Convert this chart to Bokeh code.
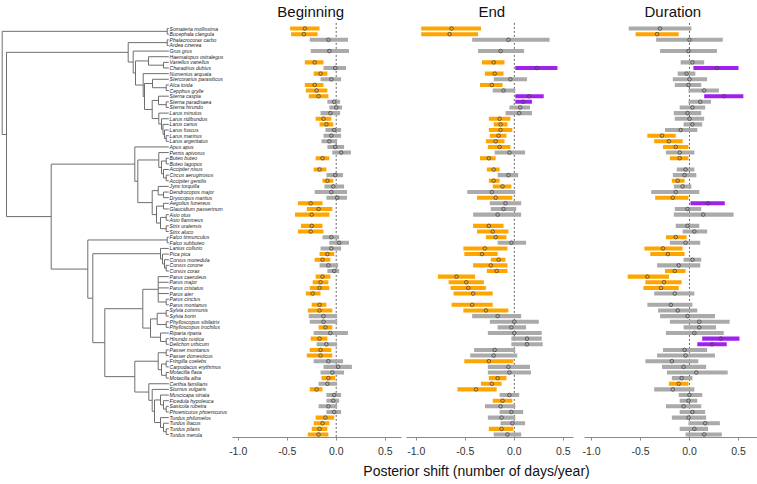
from bokeh.plotting import figure
from bokeh.models import Range1d, ColumnDataSource, FixedTicker, PrintfTickFormatter
from bokeh.layouts import row, column
from bokeh.embed import file_html
from bokeh.resources import INLINE
from bokeh.core.properties import value

N = None

species = [
    "Somateria mollissima", "Bucephala clangula", "Phalacrocorax carbo", "Ardea cinerea",
    "Grus grus", "Haematopus ostralegus", "Vanellus vanellus", "Charadrius dubius",
    "Numenius arquata", "Stercorarius parasiticus", "Alca torda", "Cepphus grylle",
    "Sterna caspia", "Sterna paradisaea", "Sterna hirundo", "Larus minutus",
    "Larus ridibundus", "Larus canus", "Larus fuscus", "Larus marinus", "Larus argentatus",
    "Apus apus", "Pernis apivorus", "Buteo buteo", "Buteo lagopus", "Accipiter nisus",
    "Circus aeruginosus", "Accipiter gentilis", "Jynx torquilla", "Dendrocopos major",
    "Dryocopus martius", "Aegolius funereus", "Glaucidium passerinum", "Asio otus",
    "Asio flammeus", "Strix uralensis", "Strix aluco", "Falco tinnunculus", "Falco subbuteo",
    "Lanius collurio", "Pica pica", "Corvus monedula", "Corvus corone", "Corvus corax",
    "Parus caeruleus", "Parus major", "Parus cristatus", "Parus ater", "Parus cinctus",
    "Parus montanus", "Sylvia communis", "Sylvia borin", "Phylloscopus sibilatrix",
    "Phylloscopus trochilus", "Riparia riparia", "Hirundo rustica", "Delichon urbicum",
    "Passer montanus", "Passer domesticus", "Fringilla coelebs", "Carpodacus erythrinus",
    "Motacilla flava", "Motacilla alba", "Certhia familiaris", "Sturnus vulgaris",
    "Muscicapa striata", "Ficedula hypoleuca", "Saxicola rubetra", "Phoenicurus phoenicurus",
    "Turdus philomelos", "Turdus iliacus", "Turdus pilaris", "Turdus merula",
]

# Beginning: lower bound, median, upper bound (days/year)
begin_lo = [-0.47, -0.46, -0.27, N, -0.26, N, -0.32, -0.13, -0.23, -0.16, -0.32, -0.31, -0.28, -0.09, -0.07,
            -0.16, -0.21, -0.17, -0.11, -0.13, -0.15, -0.09, -0.04, -0.21, N, -0.23, -0.10, -0.14, -0.12, -0.22,
            -0.10, -0.39, -0.30, -0.42, N, -0.36, -0.39, -0.14, -0.07, -0.16, -0.17, -0.22, -0.17, -0.09, -0.21,
            -0.24, -0.27, -0.31, N, -0.25, -0.29, -0.28, -0.27, -0.18, -0.23, -0.26, -0.20, -0.27, -0.30, -0.23,
            -0.13, -0.16, -0.15, -0.18, -0.27, -0.10, -0.10, -0.18, -0.10, -0.21, -0.23, -0.25, -0.29]
begin_med = [-0.32, -0.33, -0.08, N, -0.07, N, -0.22, -0.01, -0.16, -0.05, -0.22, -0.20, -0.18, -0.02, 0.00,
             -0.06, -0.13, -0.10, -0.02, -0.05, -0.07, -0.01, 0.05, -0.14, N, -0.17, -0.01, -0.09, -0.03, -0.05,
             0.01, -0.26, -0.18, -0.25, N, -0.25, -0.26, -0.05, 0.03, -0.05, -0.09, -0.14, -0.08, -0.02, -0.14,
             -0.16, -0.17, -0.24, N, -0.17, -0.17, -0.13, -0.13, -0.11, -0.06, -0.17, -0.10, -0.16, -0.16, -0.08,
             0.02, -0.04, -0.08, -0.09, -0.20, -0.02, -0.03, -0.08, -0.02, -0.11, -0.14, -0.17, -0.18]
begin_hi = [-0.17, -0.19, 0.12, N, 0.13, N, -0.13, 0.10, -0.09, 0.05, -0.13, -0.09, -0.08, 0.04, 0.06,
            0.04, -0.05, -0.03, 0.05, 0.05, 0.01, 0.08, 0.15, -0.07, N, -0.10, 0.07, -0.03, 0.08, 0.11,
            0.11, -0.14, -0.04, -0.07, N, -0.14, -0.13, 0.03, 0.13, 0.05, -0.02, -0.06, 0.02, 0.03, -0.06,
            -0.08, -0.07, -0.16, N, -0.10, -0.04, 0.01, 0.01, -0.04, 0.12, -0.09, 0.01, -0.05, -0.04, 0.07,
            0.16, 0.08, -0.01, 0.01, -0.14, 0.05, 0.03, 0.01, 0.05, -0.02, -0.07, -0.09, -0.08]

# End
end_lo = [-0.95, -0.95, -0.43, N, -0.37, N, -0.33, 0.01, -0.30, -0.21, -0.35, -0.22, 0.01, 0.01, -0.05,
          -0.09, -0.26, -0.21, -0.26, -0.25, -0.29, -0.27, -0.20, -0.35, N, -0.28, -0.17, -0.26, -0.22, -0.48,
          -0.38, -0.25, -0.24, -0.42, N, -0.42, -0.38, -0.29, -0.17, -0.52, -0.51, -0.24, -0.42, -0.28, -0.78,
          -0.67, -0.65, -0.62, N, -0.64, -0.52, -0.43, -0.25, -0.17, -0.27, -0.03, -0.03, -0.41, -0.45, -0.51,
          -0.27, -0.27, -0.26, -0.34, -0.58, -0.15, -0.22, -0.30, -0.15, -0.27, -0.14, -0.26, -0.21]
end_med = [-0.64, -0.66, -0.06, N, -0.14, N, -0.21, 0.23, -0.20, -0.04, -0.23, -0.11, 0.15, 0.09, 0.06,
           0.05, -0.15, -0.14, -0.14, -0.16, -0.19, -0.15, -0.05, -0.26, N, -0.21, -0.06, -0.21, -0.12, -0.23,
           -0.19, -0.09, -0.11, -0.17, N, -0.26, -0.22, -0.19, -0.03, -0.30, -0.33, -0.16, -0.24, -0.18, -0.59,
           -0.49, -0.47, -0.42, N, -0.43, -0.29, -0.17, 0.00, -0.03, 0.00, 0.13, 0.13, -0.20, -0.21, -0.26,
           -0.06, -0.05, -0.17, -0.23, -0.39, -0.05, -0.12, -0.14, -0.03, -0.13, -0.02, -0.13, -0.07]
end_hi = [-0.34, -0.37, 0.36, N, 0.10, N, -0.10, 0.44, -0.11, 0.13, -0.12, 0.01, 0.30, 0.18, 0.16,
          0.18, -0.04, -0.07, -0.02, -0.08, -0.10, -0.04, 0.11, -0.19, N, -0.15, 0.04, -0.15, -0.03, 0.01,
          -0.02, 0.07, 0.02, 0.07, N, -0.11, -0.06, -0.08, 0.12, -0.07, -0.17, -0.09, -0.07, -0.07, -0.40,
          -0.31, -0.29, -0.22, N, -0.22, -0.06, 0.07, 0.25, 0.12, 0.28, 0.28, 0.29, 0.01, 0.03, -0.01,
          0.16, 0.17, -0.08, -0.13, -0.18, 0.05, -0.02, 0.01, 0.09, 0.01, 0.11, -0.01, 0.07]

# Duration
dur_lo = [-0.62, -0.55, -0.34, N, -0.30, N, -0.09, 0.04, -0.12, -0.17, -0.15, -0.01, 0.15, -0.01, -0.10,
          -0.16, -0.15, -0.06, -0.25, -0.43, -0.36, -0.27, -0.24, -0.20, N, -0.13, -0.17, -0.18, -0.16, -0.39,
          -0.35, 0.01, -0.15, -0.16, N, -0.14, -0.07, -0.24, -0.20, -0.46, -0.40, -0.06, -0.33, -0.25, -0.63,
          -0.45, -0.47, -0.36, N, -0.43, -0.32, -0.30, -0.20, -0.06, -0.24, 0.13, 0.08, -0.27, -0.33, -0.45,
          -0.28, -0.23, -0.18, -0.21, -0.36, -0.11, -0.10, -0.24, -0.10, -0.18, -0.01, -0.10, -0.04]
dur_med = [-0.30, -0.33, 0.00, N, -0.01, N, 0.03, 0.28, -0.03, 0.00, -0.01, 0.15, 0.35, 0.11, 0.03,
           -0.02, 0.00, 0.03, -0.09, -0.28, -0.21, -0.14, -0.10, -0.10, N, -0.04, -0.05, -0.12, -0.07, -0.14,
           -0.17, 0.19, -0.02, 0.14, N, -0.02, 0.05, -0.14, -0.04, -0.27, -0.22, 0.03, -0.11, -0.15, -0.43,
           -0.26, -0.29, -0.15, N, -0.19, -0.12, -0.02, 0.10, 0.10, 0.05, 0.32, 0.23, -0.05, -0.04, -0.18,
           -0.06, 0.07, -0.08, -0.11, -0.17, 0.00, -0.01, -0.06, 0.03, -0.01, 0.16, 0.05, 0.15]
dur_hi = [0.02, -0.11, 0.34, N, 0.28, N, 0.15, 0.50, 0.06, 0.18, 0.12, 0.30, 0.55, 0.22, 0.16,
          0.12, 0.15, 0.13, 0.08, -0.14, -0.07, -0.01, 0.05, -0.01, N, 0.05, 0.07, -0.05, 0.02, 0.10,
          -0.01, 0.36, 0.12, 0.45, N, 0.10, 0.18, -0.03, 0.11, -0.07, -0.05, 0.12, 0.11, -0.04, -0.21,
          -0.08, -0.11, 0.05, N, 0.03, 0.08, 0.26, 0.41, 0.27, 0.35, 0.51, 0.38, 0.18, 0.26, 0.09,
          0.17, 0.39, 0.03, -0.01, 0.05, 0.13, 0.08, 0.12, 0.16, 0.17, 0.31, 0.19, 0.33]

panel_titles = ["Beginning", "End", "Duration"]
tick_values = [-1.0, -0.5, 0.0, 0.5]
x_label = "Posterior shift (number of days/year)"

# phylogeny: (node depth, [children]); leaves are species names
TREE = (1.7, [
    (166.7, ["Somateria mollissima", "Bucephala clangula"]),
    (6.0, [
        (127.7, [
            (166.7, ["Phalacrocorax carbo", "Ardea cinerea"]),
            (132.7, [
                "Grus grus",
                (135.0, [
                    (148.0, ["Haematopus ostralegus", (163.0, ["Vanellus vanellus", "Charadrius dubius"])]),
                    (142.7, [
                        "Numenius arquata",
                        (144.0, [
                            (152.0, ["Stercorarius parasiticus", (165.7, ["Alca torda", "Cepphus grylle"])]),
                            (151.7, [
                                (158.0, ["Sterna caspia", (165.7, ["Sterna paradisaea", "Sterna hirundo"])]),
                                (158.3, ["Larus minutus",
                                         (161.0, ["Larus ridibundus",
                                                  (162.5, ["Larus canus",
                                                           (164.0, ["Larus fuscus",
                                                                    (165.7, ["Larus marinus", "Larus argentatus"])])])])]),
                            ]),
                        ]),
                    ]),
                ]),
            ]),
        ]),
        (50.7, [
            (134.3, [
                "Apus apus",
                (137.3, [
                    (158.3, ["Pernis apivorus",
                             (161.0, [(165.7, ["Buteo buteo", "Buteo lagopus"]),
                                      (163.0, ["Accipiter nisus",
                                               (165.7, ["Circus aeruginosus", "Accipiter gentilis"])])])]),
                    (151.7, [
                        (157.7, ["Jynx torquilla", (163.0, ["Dendrocopos major", "Dryocopus martius"])]),
                        (156.0, [(163.0, ["Aegolius funereus", "Glaucidium passerinum"]),
                                 (160.0, [(165.7, ["Asio otus", "Asio flammeus"]),
                                          (165.7, ["Strix uralensis", "Strix aluco"])])]),
                    ]),
                ]),
            ]),
            (87.3, [
                (166.7, ["Falco tinnunculus", "Falco subbuteo"]),
                (92.3, [
                    (160.0, ["Lanius collurio",
                             (162.0, ["Pica pica",
                                      (164.0, ["Corvus monedula", (165.7, ["Corvus corone", "Corvus corax"])])])]),
                    (104.3, [
                        (142.3, [
                            (157.7, ["Parus caeruleus", "Parus major", "Parus cristatus", "Parus ater",
                                     (165.7, ["Parus cinctus", "Parus montanus"])]),
                            (150.0, [(156.7, [(165.7, ["Sylvia communis", "Sylvia borin"]),
                                              (165.7, ["Phylloscopus sibilatrix", "Phylloscopus trochilus"])]),
                                     (160.0, ["Riparia riparia", (165.7, ["Hirundo rustica", "Delichon urbicum"])])]),
                        ]),
                        (134.3, [
                            (157.7, [(165.7, ["Passer montanus", "Passer domesticus"]),
                                     (161.0, [(165.7, ["Fringilla coelebs", "Carpodacus erythrinus"]),
                                              (165.7, ["Motacilla flava", "Motacilla alba"])])]),
                            (148.3, ["Certhia familiaris",
                                     (151.7, ["Sturnus vulgaris",
                                              (154.0, [(160.0, ["Muscicapa striata",
                                                                (163.0, ["Ficedula hypoleuca",
                                                                         (165.7, ["Saxicola rubetra", "Phoenicurus phoenicurus"])])]),
                                                       (160.0, ["Turdus philomelos",
                                                                (163.0, ["Turdus iliacus",
                                                                         (165.7, ["Turdus pilaris", "Turdus merula"])])])])])]),
                        ]),
                    ]),
                ]),
            ]),
        ]),
    ]),
])
LEAF_X = 168.3

# ---------------- styling / layout ----------------
FONT = "Liberation Sans"
ORANGE, GREY, PURPLE = "#FFA500", "#AAAAAA", "#A020F0"
ROW_TOP, ROW_BOTTOM = -4.97, 72.53
FIG_H = 461
BORDER_B = 24

row_of = {s: i for i, s in enumerate(species)}

vx0, vx1, vy0, vy1 = [], [], [], []
hx0, hx1, hy = [], [], []


def walk(node):
    if isinstance(node, str):
        return LEAF_X, float(row_of[node])
    depth, children = node
    ys = []
    for ch in children:
        cd, cy = walk(ch)
        hx0.append(depth); hx1.append(cd); hy.append(cy)
        ys.append(cy)
    vx0.append(depth); vx1.append(depth); vy0.append(min(ys)); vy1.append(max(ys))
    return depth, (ys[0] + ys[-1]) / 2.0


_, root_y = walk(TREE)

tree = figure(width=228, height=FIG_H, x_range=Range1d(0, 228),
              y_range=Range1d(ROW_BOTTOM, ROW_TOP), x_axis_location=None, y_axis_location=None,
              toolbar_location=None, output_backend="svg",
              min_border_left=0, min_border_right=0, min_border_top=0, min_border_bottom=BORDER_B)
tree.outline_line_color = None
tree.grid.grid_line_color = None
tree.segment(x0=vx0, y0=vy0, x1=vx1, y1=vy1, line_color="#6e6e6e", line_width=1)
tree.segment(x0=hx0, y0=hy, x1=hx1, y1=hy, line_color="#6e6e6e", line_width=1)
tree.text(x=[LEAF_X + 0.8] * len(species), y=list(range(len(species))), text=species,
          text_font=value(FONT), text_font_style="italic", text_font_size="5.1px",
          text_baseline="middle", text_align="left", text_color="#222222")


def make_panel(title, title_x, lo, med, hi, xr, bl, br, width):
    ys, L, M, H, C = [], [], [], [], []
    for k, (a, b, c) in enumerate(zip(lo, med, hi)):
        if a is None:
            continue
        ys.append(k); L.append(a); M.append(b); H.append(c)
        C.append(ORANGE if c < 0 else (PURPLE if a > 0 else GREY))
    src = ColumnDataSource(dict(y=ys, lo=L, med=M, hi=H, color=C))
    p = figure(width=width, height=FIG_H, x_range=Range1d(*xr), y_range=Range1d(ROW_BOTTOM, ROW_TOP),
               y_axis_location=None, toolbar_location=None, output_backend="svg",
               min_border_left=bl, min_border_right=br, min_border_top=0, min_border_bottom=BORDER_B)
    p.outline_line_color = None
    p.grid.grid_line_color = None
    p.segment(x0=[0], x1=[0], y0=[-1.0], y1=[ROW_BOTTOM], line_color="#555555",
              line_width=0.9, line_dash="2 2")
    p.hbar(y="y", left="lo", right="hi", height=0.72, fill_color="color", line_color=None, source=src)
    p.scatter(x="med", y="y", size=3.6, marker="circle", fill_color=None, line_color="#444444",
              line_width=0.8, source=src)
    p.text(x=[title_x], y=[-3.1], text=[title], text_font=value(FONT), text_font_size="15px",
           text_align="center", text_baseline="alphabetic", text_color="#111111")
    ax = p.xaxis[0]
    ax.ticker = FixedTicker(ticks=tick_values)
    ax.formatter = PrintfTickFormatter(format="%.1f")
    ax.minor_tick_line_color = None
    ax.major_tick_in = 0
    ax.major_tick_out = 3
    ax.axis_line_color = "#8a8a8a"
    ax.major_tick_line_color = "#8a8a8a"
    ax.major_label_text_font = FONT
    ax.major_label_text_font_size = "10.5px"
    ax.major_label_text_color = "#333333"
    ax.major_label_standoff = 6
    return p


pb = make_panel(panel_titles[0], -0.26, begin_lo, begin_med, begin_hi, (-1.058, 0.666), 4, 3, 176)
pe = make_panel(panel_titles[1], -0.23, end_lo, end_med, end_hi, (-1.100, 0.604), 2, 5, 174)
pd = make_panel(panel_titles[2], -0.17, dur_lo, dur_med, dur_hi, (-1.071, 0.694), 6, 0, 179)

lab = figure(width=757, height=22, x_range=Range1d(0, 757), y_range=Range1d(0, 22),
             x_axis_location=None, y_axis_location=None, toolbar_location=None,
             output_backend="svg", min_border=0)
lab.outline_line_color = None
lab.grid.grid_line_color = None
lab.text(x=[476], y=[13], text=[x_label], text_font=value(FONT), text_font_size="14px",
         text_align="center", text_baseline="middle", text_color="#111111")

layout = column(row(tree, pb, pe, pd), lab)

with open("out.html", "w") as f:
    f.write(file_html(layout, INLINE))
